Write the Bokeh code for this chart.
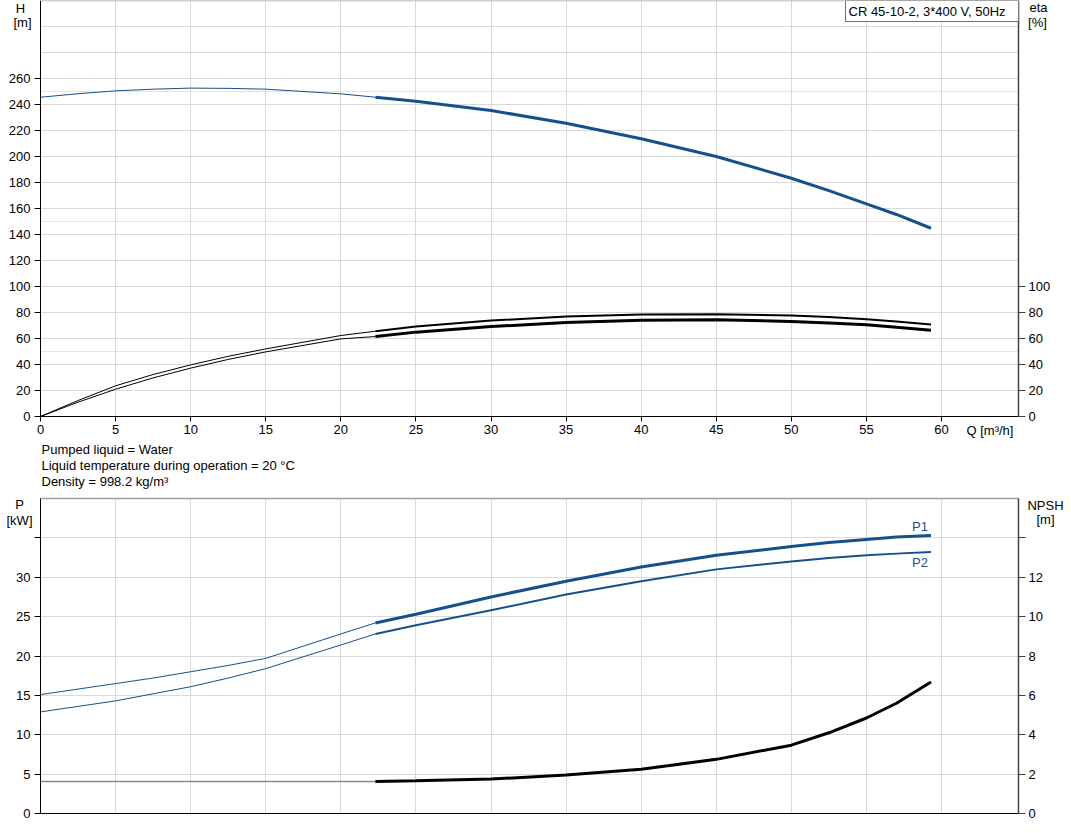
from bokeh.plotting import figure
from bokeh.models import Range1d, LinearAxis, FixedTicker, Label, BoxAnnotation, Grid
from bokeh.layouts import column
from bokeh.embed import file_html
from bokeh.resources import INLINE

# ---------------- data ----------------
q = [0, 2.5, 5, 7.5, 10, 12.5, 15, 20, 22.3, 25, 30, 35, 40, 45, 50, 52.5, 55, 57, 59.3]
h = [245.6, 248.3, 250.5, 251.8, 252.6, 252.4, 251.8, 248.2, 245.6,
     242.5, 235.4, 225.6, 213.6, 200.0, 183.3, 173.8, 163.6, 155.4, 144.8]
eta_a = [0, 12.3, 23.6, 32.3, 39.7, 46.3, 52.0, 62.3, 65.6,
         69.2, 73.8, 76.9, 78.5, 78.7, 77.7, 76.5, 74.9, 73.1, 70.8]
eta_b = [0, 11.0, 21.0, 29.7, 37.2, 43.9, 49.7, 59.7, 61.5,
         64.9, 69.2, 72.3, 74.1, 74.4, 73.1, 72.0, 70.5, 68.7, 66.4]
p1 = [15.1, 15.8, 16.5, 17.2, 18.0, 18.8, 19.7, 22.8, 24.2,
      25.3, 27.5, 29.5, 31.3, 32.8, 33.9, 34.4, 34.8, 35.1, 35.3]
p2 = [12.9, 13.6, 14.3, 15.2, 16.1, 17.2, 18.4, 21.4, 22.8,
      23.9, 25.8, 27.8, 29.5, 31.0, 32.0, 32.45, 32.8, 33.0, 33.2]
npsh = [1.62, 1.62, 1.62, 1.62, 1.62, 1.62, 1.62, 1.62, 1.62,
        1.66, 1.75, 1.95, 2.25, 2.75, 3.47, 4.1, 4.85, 5.6, 6.68]
q_split = 22.3

q_ticks = list(range(0, 61, 5))
h_ticks = list(range(0, 261, 20))
h_grid = list(range(0, 301, 20))
eta_ticks = list(range(0, 101, 20))
p_ticks = list(range(0, 36, 5))
npsh_ticks = list(range(0, 15, 2))

title_text = "CR 45-10-2, 3*400 V, 50Hz"
info_lines = ["Pumped liquid = Water",
              "Liquid temperature during operation = 20 \u00b0C",
              "Density = 998.2 kg/m\u00b3"]

# ---------------- geometry / style ----------------
BLUE = "#16508c"
GRID = "#d9d9d9"
FONT = "Liberation Sans"
FS = "13px"
W = 1070
X0 = 40                      # pixel of Q = 0
PX_Q = 901 / 60.0            # pixels per m3/h
QMAX = 978 / PX_Q            # right edge of the plot area
H_MAX, H_PX = 320, 1.3
P_MAX, P_PX = 40, 315 / 40.0
NPSH_MAX = 16
TOP_H, BOT_H = 440, 393
TOP_Y0 = 416                 # pixel of H = 0 in the top figure
BOT_YT, BOT_Y0 = 58, 373     # pixels of P = 40 and P = 0 in the bottom figure

i_split = q.index(q_split)
qa, qb = q[:i_split + 1], q[i_split:]


def style_axis(ax, color="black", width=1, tick_out=5, standoff=3):
    ax.axis_line_color = color
    ax.axis_line_width = width
    ax.major_tick_line_color = color
    ax.major_tick_out = tick_out
    ax.major_tick_in = 0
    ax.minor_tick_line_color = None
    ax.major_label_text_font = FONT
    ax.major_label_text_font_size = FS
    ax.major_label_text_color = "#000000"
    ax.major_label_standoff = standoff


def add_axis(p, side, loc, bounds, ticks, color="black", width=1, tick_out=5,
             standoff=3, range_name=None, overrides=None):
    kw = {"y_range_name": range_name} if range_name else {}
    ax = LinearAxis(fixed_location=loc, bounds=bounds, ticker=FixedTicker(ticks=ticks), **kw)
    style_axis(ax, color, width, tick_out, standoff)
    if overrides:
        ax.major_label_overrides = overrides
    p.add_layout(ax, side)
    return ax


def add_grids(p, ymax, yticks):
    p.add_layout(Grid(dimension=0, ticker=FixedTicker(ticks=q_ticks), bounds=(0, QMAX),
                      grid_line_color=GRID))
    p.add_layout(Grid(dimension=1, ticker=FixedTicker(ticks=yticks), bounds=(0, ymax),
                      grid_line_color=GRID))
    # white masks so that the grid stays inside the plotting area
    xr, yr = p.x_range, p.y_range
    for l_, r_, b_, t_ in [(xr.start, 0, yr.start, yr.end), (QMAX, xr.end, yr.start, yr.end),
                           (xr.start, xr.end, ymax, yr.end), (xr.start, xr.end, yr.start, 0)]:
        p.add_layout(BoxAnnotation(left=l_, right=r_, bottom=b_, top=t_, level="glyph",
                                   fill_color="white", fill_alpha=1, line_alpha=0))


def lab(p, text, x, y, dx, dy, align="center", color="#000000"):
    p.add_layout(Label(x=x, y=y, x_offset=dx, y_offset=dy, text=text,
                       text_font=FONT, text_font_size=FS, text_color=color,
                       text_align=align, text_baseline="middle"))


def base_fig(height, y_start, y_end):
    p = figure(width=W, height=height,
               x_range=Range1d(-X0 / PX_Q, (W - X0) / PX_Q),
               y_range=Range1d(y_start, y_end),
               x_axis_location=None, y_axis_location=None,
               output_backend="svg", toolbar_location=None, min_border=0)
    p.outline_line_color = None
    p.background_fill_color = "white"
    p.border_fill_color = "white"
    return p


# ---------------- top figure: H and eta ----------------
yt0, yt1 = -(TOP_H - TOP_Y0) / H_PX, TOP_Y0 / H_PX
pt = base_fig(TOP_H, yt0, yt1)
pt.extra_y_ranges = {"eta": Range1d(yt0, yt1)}
add_grids(pt, H_MAX, h_grid)
add_axis(pt, "left", 0, (0, H_MAX), h_ticks, tick_out=6, standoff=4)
add_axis(pt, "below", 0, (0, QMAX), q_ticks)
add_axis(pt, "right", QMAX, (0, H_MAX), eta_ticks, "#444444", 1.5, tick_out=7,
         standoff=3, range_name="eta")
add_axis(pt, "above", H_MAX, (0, QMAX), [], "#a0a0a0", 1.5)

pt.line(qa, h[:i_split + 1], line_color=BLUE, line_width=1)
pt.line(qb, h[i_split:], line_color=BLUE, line_width=3)
pt.line(qa, eta_a[:i_split + 1], line_color="black", line_width=1, y_range_name="eta")
pt.line(qb, eta_a[i_split:], line_color="black", line_width=2, y_range_name="eta")
pt.line(qa, eta_b[:i_split + 1], line_color="black", line_width=1, y_range_name="eta")
pt.line(qb, eta_b[i_split:], line_color="black", line_width=3, y_range_name="eta")

box_left = (845 - X0) / PX_Q
pt.add_layout(BoxAnnotation(left=box_left, right=QMAX, top=H_MAX, bottom=H_MAX - 21 / H_PX,
                            fill_color="white", fill_alpha=1, line_color="#707070",
                            line_alpha=1, line_width=1))
lab(pt, title_text, box_left, H_MAX, 3, -11, "left")
lab(pt, "H", 0, H_MAX, -20, -8)
lab(pt, "[m]", 0, H_MAX, -18, -22)
lab(pt, "eta", QMAX, H_MAX, 20, -7)
lab(pt, "[%]", QMAX, H_MAX, 19, -22)
lab(pt, "Q [m\u00b3/h]", (966 - X0) / PX_Q, 0, 0, -14, "left")

# ---------------- bottom figure: P and NPSH ----------------
yb0, yb1 = -(BOT_H - BOT_Y0) / P_PX, P_MAX + BOT_YT / P_PX
pb = base_fig(BOT_H, yb0, yb1)
pb.extra_y_ranges = {"npsh": Range1d(yb0 * NPSH_MAX / P_MAX, yb1 * NPSH_MAX / P_MAX)}
add_grids(pb, P_MAX, p_ticks)
add_axis(pb, "left", 0, (0, P_MAX), p_ticks, tick_out=6, standoff=4, overrides={35: ""})
add_axis(pb, "below", 0, (0, QMAX), [])
add_axis(pb, "right", QMAX, (0, NPSH_MAX), npsh_ticks, "#444444", 1.5, tick_out=7,
         standoff=3, range_name="npsh", overrides={14: ""})
add_axis(pb, "above", P_MAX, (0, QMAX), [], "#a0a0a0", 1.5)

pb.line(qa, p1[:i_split + 1], line_color=BLUE, line_width=1)
pb.line(qb, p1[i_split:], line_color=BLUE, line_width=3)
pb.line(qa, p2[:i_split + 1], line_color=BLUE, line_width=1)
pb.line(qb, p2[i_split:], line_color=BLUE, line_width=2)
pb.line(qa, npsh[:i_split + 1], line_color="#8a8a8a", line_width=1.5, y_range_name="npsh")
pb.line(qb, npsh[i_split:], line_color="black", line_width=3, y_range_name="npsh")

lab(pb, "P1", q[-1], p1[-1], -11, 9, color=BLUE)
lab(pb, "P2", q[-1], p2[-1], -11, -10, color=BLUE)
lab(pb, "P", 0, P_MAX, -21, -6)
lab(pb, "[kW]", 0, P_MAX, -21, -22)
lab(pb, "NPSH", QMAX, P_MAX, 27, -7)
lab(pb, "[m]", QMAX, P_MAX, 27, -21)
for k, line in enumerate(info_lines):
    lab(pb, line, 0, P_MAX, 1, 49 - 16 * k, "left")

out = column(pt, pb)
open("out.html", "w").write(file_html(out, INLINE))
